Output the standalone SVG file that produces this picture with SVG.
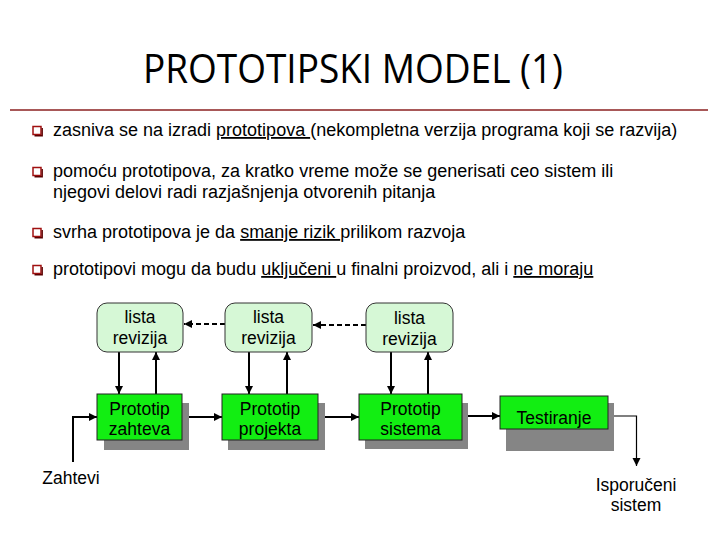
<svg xmlns="http://www.w3.org/2000/svg" width="720" height="540" viewBox="0 0 720 540">
<style>
  .title{font-family:"Open Sans","Liberation Sans",sans-serif;font-size:40px;fill:#000;}
  .bt{font-family:"Liberation Sans",Arial,sans-serif;font-size:18px;fill:#000;}
  .u{text-decoration:underline;}
  .lbl{font-family:"Liberation Sans",Arial,sans-serif;font-size:17.5px;fill:#000;text-anchor:middle;}
  .rev{fill:#D6F8D6;stroke:#333;stroke-width:1;}
  .proto{fill:#12EE12;stroke:#222;stroke-width:1;}
  .shadow{fill:#858585;}
  .con{stroke:#000;stroke-width:2;fill:none;}
  .thin{stroke:#000;stroke-width:1.2;fill:none;}
  .dash{stroke:#000;stroke-width:2;fill:none;stroke-dasharray:5,3;}
  .bul{fill:#fff;stroke:#A01010;stroke-width:1.5;}
</style>
<defs>
  <marker id="ah" viewBox="0 0 10 10" refX="10" refY="5" markerWidth="4" markerHeight="4" orient="auto" markerUnits="strokeWidth">
    <path d="M0,0 L10,5 L0,10 z" fill="#000"/>
  </marker>
  <marker id="ah2" viewBox="0 0 10 10" refX="10" refY="5" markerWidth="7" markerHeight="7" orient="auto" markerUnits="strokeWidth">
    <path d="M0,0 L10,5 L0,10 z" fill="#000"/>
  </marker>
  <g id="bullet">
    <rect x="0" y="0" width="8" height="8" class="bul"/>
    <path d="M1.5,9.2 H9.2 V1.5" stroke="#5A0000" stroke-width="1.4" fill="none"/>
  </g>
</defs>
<rect width="720" height="540" fill="#fff"/>

<g id="title">
  <text class="title" x="353" y="83" text-anchor="middle" textLength="420" lengthAdjust="spacingAndGlyphs">PROTOTIPSKI MODEL (1)</text>
  <line x1="10" y1="110" x2="708" y2="110" stroke="#8B2020" stroke-width="1.5"/>
</g>

<g id="bullets">
  <use href="#bullet" x="33" y="126.5"/>
  <text class="bt" x="53" y="136">zasniva se na izradi <tspan class="u" style="text-decoration-thickness:1.6px">prototipova </tspan>(nekompletna verzija programa koji se razvija)</text>
  <use href="#bullet" x="33" y="167.5"/>
  <text class="bt" x="53" y="177">pomoću prototipova, za kratko vreme može se generisati ceo sistem ili</text>
  <text class="bt" x="53" y="198">njegovi delovi radi razjašnjenja otvorenih pitanja</text>
  <use href="#bullet" x="33" y="228.5"/>
  <text class="bt" x="53" y="238">svrha prototipova je da <tspan class="u" style="text-decoration-thickness:2.5px">smanje rizik </tspan>prilikom razvoja</text>
  <use href="#bullet" x="33" y="265.5"/>
  <text class="bt" x="53" y="275">prototipovi mogu da budu <tspan class="u" style="text-decoration-thickness:2px">uključeni </tspan>u finalni proizvod, ali i <tspan class="u" style="text-decoration-thickness:2px">ne moraju</tspan></text>
</g>

<g id="connectors">
  <line class="dash" x1="225" y1="324" x2="184" y2="324" marker-end="url(#ah)"/>
  <line class="dash" x1="366" y1="325" x2="313" y2="325" marker-end="url(#ah)"/>
  <line class="con" x1="119" y1="352" x2="119" y2="394" marker-end="url(#ah)"/>
  <line class="con" x1="156" y1="394" x2="156" y2="352" marker-end="url(#ah)"/>
  <line class="con" x1="249" y1="352" x2="249" y2="394" marker-end="url(#ah)"/>
  <line class="con" x1="287" y1="394" x2="287" y2="352" marker-end="url(#ah)"/>
  <line class="con" x1="391" y1="352" x2="391" y2="394" marker-end="url(#ah)"/>
  <line class="con" x1="428" y1="394" x2="428" y2="352" marker-end="url(#ah)"/>
  <polyline class="con" points="73,462 73,417 97,417" marker-end="url(#ah)"/>
  <line class="con" x1="188" y1="417" x2="222" y2="417" marker-end="url(#ah)"/>
  <line class="con" x1="325" y1="417" x2="359" y2="417" marker-end="url(#ah)"/>
  <line class="con" x1="468" y1="416" x2="500" y2="416" marker-end="url(#ah)"/>
  <polyline class="thin" points="611,416 636.5,416 636.5,466" marker-end="url(#ah2)"/>
</g>

<g id="lista1">
  <rect class="rev" x="97" y="303" width="86" height="49" rx="10"/>
  <text class="lbl" x="140" y="323">lista</text>
  <text class="lbl" x="140" y="344">revizija</text>
</g>
<g id="lista2">
  <rect class="rev" x="225" y="303" width="87" height="49" rx="10"/>
  <text class="lbl" x="268.5" y="323">lista</text>
  <text class="lbl" x="268.5" y="344">revizija</text>
</g>
<g id="lista3">
  <rect class="rev" x="366" y="303" width="87" height="49" rx="10"/>
  <text class="lbl" x="409.5" y="324">lista</text>
  <text class="lbl" x="409.5" y="345">revizija</text>
</g>

<g id="prototip-zahteva">
  <rect class="shadow" x="104" y="403" width="85" height="47"/>
  <rect class="proto" x="97" y="394" width="85" height="46"/>
  <text class="lbl" x="139.5" y="415">Prototip</text>
  <text class="lbl" x="139.5" y="435">zahteva</text>
</g>
<g id="prototip-projekta">
  <rect class="shadow" x="228" y="403" width="97" height="47"/>
  <rect class="proto" x="222" y="394" width="96" height="46"/>
  <text class="lbl" x="270" y="415">Prototip</text>
  <text class="lbl" x="270" y="435">projekta</text>
</g>
<g id="prototip-sistema">
  <rect class="shadow" x="365" y="403" width="103" height="46"/>
  <rect class="proto" x="359" y="394" width="103" height="46"/>
  <text class="lbl" x="410.5" y="415">Prototip</text>
  <text class="lbl" x="410.5" y="435">sistema</text>
</g>
<g id="testiranje">
  <rect class="shadow" x="506" y="403" width="108" height="48"/>
  <rect class="proto" x="500" y="396" width="108" height="33"/>
  <text class="lbl" x="554" y="424">Testiranje</text>
</g>

<g id="zahtevi">
  <text class="lbl" x="71" y="484">Zahtevi</text>
</g>
<g id="isporuceni">
  <text class="lbl" x="636" y="491">Isporučeni</text>
  <text class="lbl" x="636" y="511">sistem</text>
</g>
</svg>
